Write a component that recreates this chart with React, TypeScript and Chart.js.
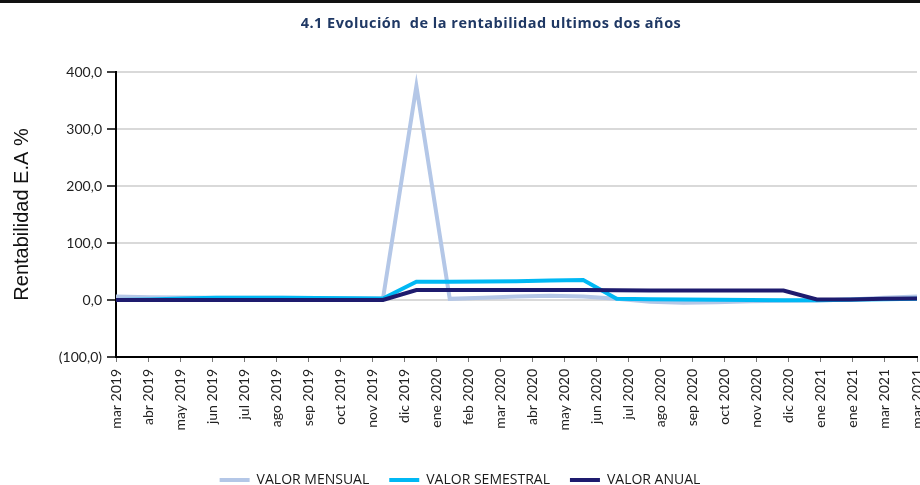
import React, { useEffect, useRef } from "react";
import { Chart, registerables } from "chart.js";

Chart.register(...registerables);

const categories = [
  "mar 2019", "abr 2019", "may 2019", "jun 2019", "jul 2019", "ago 2019",
  "sep 2019", "oct 2019", "nov 2019", "dic 2019", "ene 2020", "feb 2020",
  "mar 2020", "abr 2020", "may 2020", "jun 2020", "jul 2020", "ago 2020",
  "sep 2020", "oct 2020", "nov 2020", "dic 2020", "ene 2021", "ene 2021",
  "mar 2021", "mar 2021",
];

const valorMensual = [6, 5, 4.5, 4, 4, 4, 3.5, 3, 2.5, 375, 2, 4, 6, 7.5, 6, 2, -3, -5, -4, -2, -1.5, -1, 1, 4, 6];
const valorSemestral = [0, 1, 2.5, 4, 4, 4, 3.5, 3, 2.5, 32, 32, 32.5, 33, 34, 35, 2, 1.5, 1, 0.5, 0, -0.5, -0.5, 0.5, 1.5, 2];
const valorAnual = [0, 0, 0, 0, 0, 0, 0, 0, 0, 17.5, 17.5, 17.5, 17.5, 17.5, 17.5, 17, 16.5, 16.5, 16.5, 16.5, 16.5, 1, 1, 2, 2.5];

const seriesNames = ["VALOR MENSUAL", "VALOR SEMESTRAL", "VALOR ANUAL"];
const seriesColors = ["#B4C7E7", "#00B8F4", "#1E1B6E"];

const yMin = -100;
const yMax = 400;
const yStep = 100;

const fmt = (v: number) => {
  const s = Math.abs(v).toFixed(1).replace(".", ",");
  return v < 0 ? `(${s})` : s;
};

export default function App() {
  const ref = useRef<HTMLCanvasElement>(null);

  useEffect(() => {
    if (!ref.current) return;
    const toPts = (arr: number[]) => arr.map((y, i) => ({ x: i, y }));
    const series = [valorMensual, valorSemestral, valorAnual];
    const chart = new Chart(ref.current, {
      type: "line",
      data: {
        labels: categories,
        datasets: series.map((arr, k) => ({
          label: seriesNames[k],
          data: toPts(arr),
          xAxisID: "xd",
          yAxisID: "y",
          borderColor: seriesColors[k],
          backgroundColor: seriesColors[k],
          borderWidth: 4,
          pointRadius: 0,
          tension: 0,
          order: 3 - k,
        })),
      },
      options: {
        responsive: false,
        animation: false,
        devicePixelRatio: 1,
        layout: { padding: { top: 72, left: 0, right: 0, bottom: 0 } },
        plugins: {
          tooltip: { enabled: false },
          title: { display: false },
          legend: {
            position: "bottom",
            labels: {
              boxWidth: 30,
              boxHeight: 4,
              padding: 20,
              color: "#1a1a1a",
              font: { family: "Open Sans", size: 14 },
              sort: (a: any, b: any) => a.datasetIndex - b.datasetIndex,
              generateLabels: (c: any) =>
                (Chart.defaults.plugins.legend.labels as any)
                  .generateLabels(c)
                  .map((l: any) => ({ ...l, lineWidth: 0, fillStyle: l.strokeStyle })),
            },
          },
        },
        scales: {
          x: {
            type: "category",
            position: "bottom",
            offset: false,
            afterFit: (s: any) => {
              s.height = 96;
              s.paddingRight = 3;
            },
            ticks: {
              autoSkip: false,
              maxRotation: 90,
              minRotation: 90,
              padding: 7,
              color: "#222",
              font: { family: "Lato", size: 14 },
            },
            grid: {
              drawOnChartArea: false,
              drawTicks: true,
              tickLength: 5,
              tickColor: "#777",
              lineWidth: 1,
            },
            border: { display: true, color: "#000", width: 2 },
          },
          xd: {
            type: "linear",
            display: false,
            position: "bottom",
            min: 0,
            max: valorMensual.length - 1,
          },
          y: {
            type: "linear",
            position: "left",
            min: yMin,
            max: yMax,
            afterFit: (s: any) => {
              s.width = 116;
            },
            ticks: {
              stepSize: yStep,
              padding: 5,
              color: "#222",
              font: { family: "Lato", size: 14 },
              callback: (v: any) => fmt(Number(v)),
            },
            grid: {
              color: (ctx: any) => (ctx.tick && ctx.tick.value === yMin ? "rgba(0,0,0,0)" : "#d9d9d9"),
              lineWidth: 2,
              drawTicks: true,
              tickLength: 9,
              tickColor: "#000",
              tickWidth: 1.5,
            },
            border: { display: true, color: "#000", width: 2 },
            title: {
              display: true,
              text: "Rentabilidad E.A %",
              color: "#111",
              font: { family: "Liberation Sans", size: 20 },
              padding: { top: 10, bottom: 0 },
            },
          },
        },
      },
    } as any);
    return () => chart.destroy();
  }, []);

  return (
    <div
      style={{
        position: "absolute",
        left: 0,
        top: 0,
        width: 920,
        height: 485,
        overflow: "hidden",
        background: "#fff",
      }}
    >
      <canvas ref={ref} width={920} height={497} style={{ position: "absolute", left: 0, top: 0 }} />
      <div style={{ position: "absolute", left: 0, top: 0, width: 920, height: 3, background: "#111" }} />
      <div
        style={{
          position: "absolute",
          left: 191,
          top: 13,
          width: 600,
          textAlign: "center",
          fontFamily: "Open Sans",
          fontWeight: 700,
          fontSize: 14.5,
          letterSpacing: "0.5px",
          lineHeight: "20px",
          color: "#1F3864",
          whiteSpace: "pre",
        }}
      >
        {"4.1 Evolución  de la rentabilidad ultimos dos años"}
      </div>
    </div>
  );
}
